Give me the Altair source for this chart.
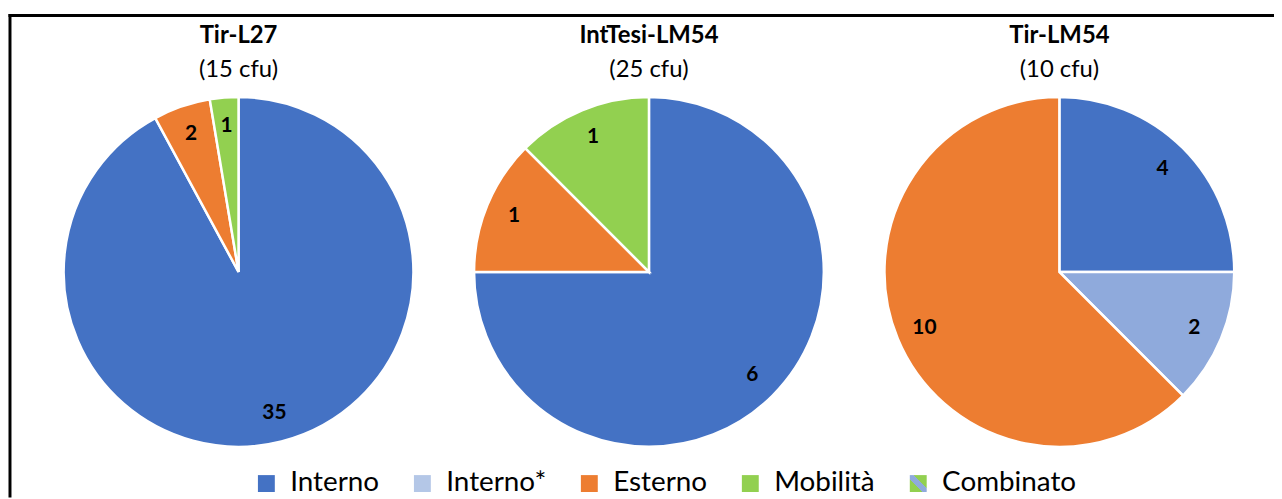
import altair as alt
import pandas as pd

# ---- data ----
charts = ["Tir-L27", "IntTesi-LM54", "Tir-LM54"]
cfu_labels = ["(15 cfu)", "(25 cfu)", "(10 cfu)"]
categories = ["Interno", "Interno*", "Esterno", "Mobilità", "Combinato"]
interno = [35, 6, 4]
interno_star = [0, 0, 2]
esterno = [2, 1, 10]
mobilita = [1, 1, 0]
combinato = [0, 0, 0]

series = {
    "Interno": interno,
    "Interno*": interno_star,
    "Esterno": esterno,
    "Mobilità": mobilita,
    "Combinato": combinato,
}

slice_colors = ["#4472C4", "#8FAADC", "#ED7D31", "#92D050", "#91C188"]
stripe_expr = (
    "({gradient: 'linear', x1: 0, y1: 1, x2: 1, y2: 0, stops: ["
    "{offset: 0, color: '#92D050'}, {offset: 0.38, color: '#92D050'},"
    "{offset: 0.38, color: '#8FAADC'}, {offset: 0.62, color: '#8FAADC'},"
    "{offset: 0.62, color: '#92D050'}, {offset: 1, color: '#92D050'}]})"
)
legend_colors = ["#4472C4", "#B4C7E7", "#ED7D31", "#92D050", {"expr": stripe_expr}]

rows = []
for i, c in enumerate(charts):
    for k, cat in enumerate(categories):
        v = series[cat][i]
        if v > 0:
            rows.append({"chart": c, "category": cat, "ord": k, "value": v})
pie_df = pd.DataFrame(rows)
title_df = pd.DataFrame({"chart": charts, "cfu": cfu_labels})
legend_df = pd.DataFrame({"category": categories})

W, H = 1272, 485
CY = 258
FONT = "Lato"

xscale = alt.Scale(type="point", domain=charts, range=[230, 1056], padding=0)
tscale = alt.Scale(domain=[0, 1])
X = alt.X("chart:N", scale=xscale, axis=None)

base = (
    alt.Chart(pie_df)
    .transform_joinaggregate(total="sum(value)", groupby=["chart"])
    .transform_window(
        cum="sum(value)", groupby=["chart"], sort=[alt.SortField("ord")], frame=[None, 0]
    )
    .transform_calculate(
        t0="(datum.cum - datum.value) / datum.total",
        t1="datum.cum / datum.total",
        tm="(datum.cum - datum.value / 2) / datum.total",
    )
)

arcs = base.mark_arc(radius=176, stroke="white", strokeWidth=2.5).encode(
    x=X,
    y=alt.value(CY),
    theta=alt.Theta("t0:Q", scale=tscale, stack=None),
    theta2="t1:Q",
    color=alt.Color(
        "category:N", scale=alt.Scale(domain=categories, range=slice_colors), legend=None
    ),
)

labels = base.mark_text(
    radius=147, font=FONT, fontSize=21, fontWeight="bold", color="#000000"
).encode(
    x=X,
    y=alt.value(CY),
    theta=alt.Theta("tm:Q", scale=tscale, stack=None),
    text=alt.Text("value:Q"),
)

titles = alt.Chart(title_df).mark_text(
    font=FONT, fontSize=24, fontWeight="bold", baseline="alphabetic", color="#000000"
).encode(x=X, y=alt.value(28), text="chart:N")

subtitles = alt.Chart(title_df).mark_text(
    font=FONT, fontSize=24, baseline="alphabetic", color="#000000"
).encode(x=X, y=alt.value(62), text="cfu:N")

legend_layer = alt.Chart(legend_df).mark_square(opacity=0).encode(
    color=alt.Color(
        "category:N",
        scale=alt.Scale(domain=categories, range=legend_colors),
        legend=alt.Legend(
            title=None,
            orient="none",
            legendX=244,
            legendY=457,
            direction="horizontal",
            columns=5,
            symbolType="square",
            symbolSize=289,
            symbolStrokeWidth=0,
            symbolOpacity=1,
            labelFont=FONT,
            labelFontSize=28,
            labelColor="#000000",
            labelOffset=10,
            columnPadding=29,
            padding=0,
        ),
    )
)

one = pd.DataFrame({"k": [0]})
frame_left = alt.Chart(one).mark_rule(color="black", strokeWidth=3).encode(
    x=alt.value(0), y=alt.value(-1.5), y2=alt.value(H)
)
frame_top = alt.Chart(one).mark_rule(color="black", strokeWidth=3).encode(
    x=alt.value(-1.5), x2=alt.value(W), y=alt.value(0)
)

chart = (
    alt.layer(arcs, labels, titles, subtitles, legend_layer, frame_left, frame_top)
    .resolve_scale(color="independent")
    .properties(
        width=W,
        height=H,
        padding={"left": 2, "top": 6, "right": 0, "bottom": 0},
        autosize=alt.AutoSizeParams(type="none"),
        background="white",
    )
    .configure_view(stroke=None)
)

chart.save("out.html", embed_options={"renderer": "svg", "actions": False})
